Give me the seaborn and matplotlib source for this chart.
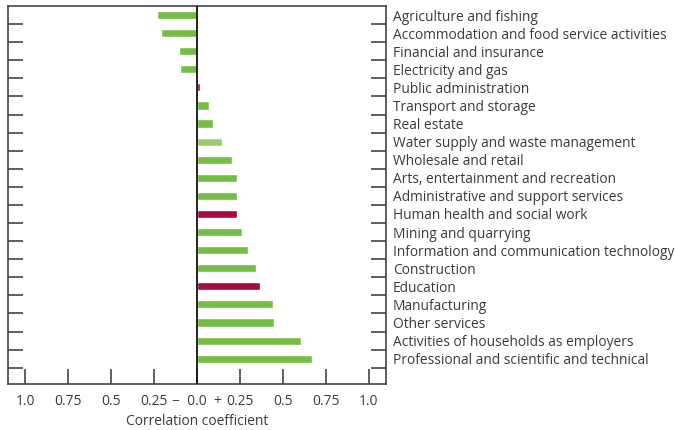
import numpy as np
import pandas as pd
import matplotlib
matplotlib.use("Agg")
import matplotlib.pyplot as plt
import seaborn as sns


# ======================================================
# DATA
# ======================================================

sectors = [
    "Agriculture and fishing",
    "Accommodation and food service activities",
    "Financial and insurance",
    "Electricity and gas",
    "Public administration",
    "Transport and storage",
    "Real estate",
    "Water supply and waste management",
    "Wholesale and retail",
    "Arts, entertainment and recreation",
    "Administrative and support services",
    "Human health and social work",
    "Mining and quarrying",
    "Information and communication technology",
    "Construction",
    "Education",
    "Manufacturing",
    "Other services",
    "Activities of households as employers",
    "Professional and scientific and technical",
]

correlation = [
    -0.23, -0.21, -0.105, -0.098, 0.017, 0.07, 0.093, 0.145, 0.203, 0.232,
    0.232, 0.232, 0.262, 0.296, 0.343, 0.366, 0.442, 0.448, 0.605, 0.669,
]

# sector group: "private", "public", "utility"
group = [
    "private", "private", "private", "private", "public", "private", "private",
    "utility", "private", "private", "private", "public", "private", "private",
    "private", "public", "private", "private", "private", "private",
]

x_ticks = [-1.0, -0.75, -0.5, -0.25, 0.0, 0.25, 0.5, 0.75, 1.0]
x_tick_labels = ["1.0", "0.75", "0.5", "0.25", "\u2212  0.0  +", "0.25", "0.5", "0.75", "1.0"]

GROUP_COLORS = {"private": "#76bd43", "public": "#a50b3e", "utility": "#98cc6e"}
TEXT_COLOR = "#3a3a3a"
SPINE_COLOR = "#444444"


# ======================================================
# PLOT
# ======================================================

def main():

    sns.set_style("white")
    plt.rcParams["font.family"] = ["Open Sans", "DejaVu Sans"]

    df = pd.DataFrame({"sector": sectors, "correlation": correlation, "group": group})
    palette = {s: GROUP_COLORS[g] for s, g in zip(sectors, group)}

    fig = plt.figure(figsize=(6.75, 4.3), dpi=100)
    ax = fig.add_axes([8 / 675, 1 - 384 / 430, 378 / 675, 378 / 430])

    sns.barplot(
        data=df,
        x="correlation",
        y="sector",
        hue="sector",
        palette=palette,
        order=sectors,
        orient="h",
        width=0.45,
        legend=False,
        saturation=1,
        ax=ax,
    )

    ax.axvline(0, color="#111111", linewidth=1.3, zorder=3)

    ax.set_xlim(-1.1, 1.1)
    ax.set_ylim(20.4, -0.5)

    # x axis
    ax.set_xticks(x_ticks)
    ax.set_xticklabels(x_tick_labels, fontsize=9.9, color=TEXT_COLOR)
    ax.tick_params(axis="x", direction="in", length=11, width=1.2,
                   color=SPINE_COLOR, pad=7, bottom=True)
    ax.set_xlabel("Correlation coefficient", fontsize=9.9, color=TEXT_COLOR, labelpad=4)

    # y axis: labels on the right, boundary ticks on both sides
    ax.set_yticks(np.arange(len(sectors)))
    ax.set_yticklabels(sectors, fontsize=9.9, color=TEXT_COLOR)
    ax.yaxis.tick_right()
    ax.tick_params(axis="y", which="major", length=0, pad=5, left=False, right=False)
    ax.set_yticks(np.arange(len(sectors)) + 0.5, minor=True)
    ax.tick_params(axis="y", which="minor", direction="in", length=11, width=1.2,
                   color=SPINE_COLOR, left=True, right=True)
    ax.set_ylabel("")

    for spine in ax.spines.values():
        spine.set_visible(True)
        spine.set_color(SPINE_COLOR)
        spine.set_linewidth(1.2)

    fig.savefig("out.png", dpi=100)


if __name__ == "__main__":
    main()
